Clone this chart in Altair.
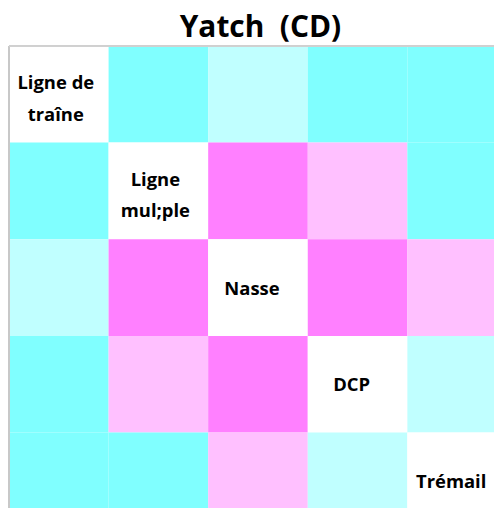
import altair as alt
import pandas as pd

title_text = "Yatch\u00a0 (CD)"
categories = ["Ligne de\ntraîne", "Ligne\nmul;ple", "Nasse", "DCP", "Trémail"]
# association level: -2 strong cyan, -1 light cyan, 0 diagonal, 1 light pink, 2 magenta
row_0 = [0, -2, -1, -2, -2]
row_1 = [-2, 0, 2, 1, -2]
row_2 = [-1, 2, 0, 2, 1]
row_3 = [-2, 1, 2, 0, -1]
row_4 = [-2, -2, 1, -1, 0]
levels = [-2, -1, 0, 1, 2]
level_colors = ["#80ffff", "#c0ffff", "#ffffff", "#ffc0ff", "#ff80ff"]

records = []
for r, vals in enumerate([row_0, row_1, row_2, row_3, row_4]):
    for c, v in enumerate(vals):
        lab = categories[r] if r == c else ""
        records.append({
            "row": r, "row_end": r + 1, "row_mid": r + 0.5,
            "col": c, "col_end": c + 1, "col_mid": c + 0.5,
            "level": v,
            "label": lab,
            "lines": lab.count("\n") + 1 if lab else 0,
        })
df = pd.DataFrame(records)

# the reference is a crop: the last column and row run off the picture
xs = alt.Scale(domain=[0, 4.87], nice=False, zero=False)
ys = alt.Scale(domain=[0, 4.78], nice=False, zero=False, reverse=True)

base = alt.Chart(df)

rects = base.mark_rect(strokeWidth=0, clip=True).encode(
    x=alt.X("col:Q", scale=xs, axis=None),
    x2="col_end:Q",
    y=alt.Y("row:Q", scale=ys, axis=None),
    y2="row_end:Q",
    color=alt.Color("level:O", scale=alt.Scale(domain=levels, range=level_colors), legend=None),
)

text_style = dict(font="Open Sans", fontWeight="bold", fontSize=18.5, color="black",
                  lineBreak="\n", lineHeight=31.5, align="center", baseline="middle")

labels_one = base.transform_filter("datum.lines == 1").mark_text(dx=-6, dy=1, **text_style).encode(
    x=alt.X("col_mid:Q", scale=xs, axis=None),
    y=alt.Y("row_mid:Q", scale=ys, axis=None),
    text="label:N",
)
labels_two = base.transform_filter("datum.lines == 2").mark_text(dx=-3, dy=-11, **text_style).encode(
    x=alt.X("col_mid:Q", scale=xs, axis=None),
    y=alt.Y("row_mid:Q", scale=ys, axis=None),
    text="label:N",
)

left_edge = alt.Chart(df).mark_rule(color="#c8c8c8", strokeWidth=2).encode(
    x=alt.datum(0, type="quantitative", scale=xs)
)
top_edge = alt.Chart(df).mark_rule(color="#d0d0d0", strokeWidth=2).encode(
    y=alt.datum(0, type="quantitative", scale=ys)
)

chart = (rects + labels_one + labels_two + left_edge + top_edge).properties(
    width=487, height=464,
    title=alt.TitleParams(title_text, font="Open Sans", fontWeight="bold", fontSize=30,
                          color="black", anchor="middle", offset=2, dx=9),
).configure(padding={"top": 4, "left": 0, "right": 0, "bottom": 0}).configure_view(stroke=None)

chart.save("out.html", embed_options={"renderer": "svg", "actions": False})
